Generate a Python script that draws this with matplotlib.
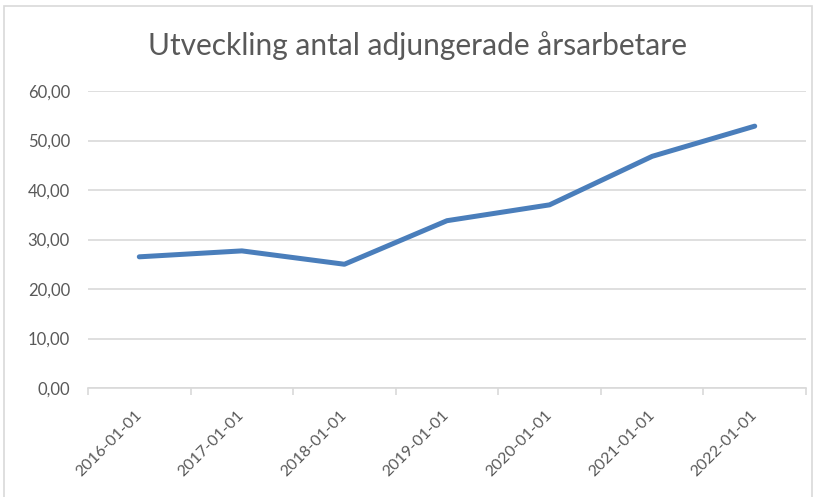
import matplotlib.pyplot as plt
from matplotlib.patches import Rectangle
from matplotlib.ticker import FuncFormatter

# data
datum = ["2016-01-01", "2017-01-01", "2018-01-01", "2019-01-01",
         "2020-01-01", "2021-01-01", "2022-01-01"]
arsarbetare = [26.5, 27.7, 25.0, 33.8, 37.0, 46.8, 52.9]
y_ticks = [0, 10, 20, 30, 40, 50, 60]

plt.rcParams['font.family'] = ['Lato', 'DejaVu Sans']
grey = '#595959'

fig = plt.figure(figsize=(8.16, 4.97), dpi=100)
ax = fig.add_axes([88 / 816, 1 - 388 / 497, 718 / 816, 297 / 497])

# chart border
fig.patches.append(Rectangle((4 / 816, -0.1), 808 / 816, 1.1 - 6 / 497,
                             transform=fig.transFigure, fill=False,
                             edgecolor='#d9d9d9', linewidth=1.2))

x = list(range(len(datum)))
ax.plot(x, arsarbetare, color='#4a7ebb', linewidth=3.6,
        solid_capstyle='round', solid_joinstyle='round')

ax.set_xlim(-0.5, len(datum) - 0.5)
ax.set_ylim(0, 60)
ax.set_yticks(y_ticks)
ax.yaxis.set_major_formatter(FuncFormatter(lambda v, p: f"{v:.2f}".replace('.', ',')))
ax.grid(axis='y', color='#d9d9d9', linewidth=1.2)
ax.set_axisbelow(True)

# category ticks between categories, labels centred on categories
ax.set_xticks([i - 0.5 for i in range(len(datum) + 1)])
ax.set_xticklabels([])
ax.set_xticks(x, minor=True)
ax.set_xticklabels(datum, minor=True, rotation=45, ha='right', va='center',
                   rotation_mode='anchor', color=grey, fontsize=11.5)
ax.tick_params(axis='x', which='major', length=5, color='#d9d9d9', width=1.2)
ax.tick_params(axis='x', which='minor', length=0, pad=18)
ax.tick_params(axis='y', length=0, labelcolor=grey, labelsize=12, pad=13)

for s in ['top', 'right', 'left']:
    ax.spines[s].set_visible(False)
ax.spines['bottom'].set_color('#d9d9d9')
ax.spines['bottom'].set_linewidth(1.2)

fig.text(418 / 816, 1 - 46 / 497, "Utveckling antal adjungerade årsarbetare",
         ha='center', va='center', fontsize=21.5, color=grey)

fig.savefig('out.png', dpi=100)
